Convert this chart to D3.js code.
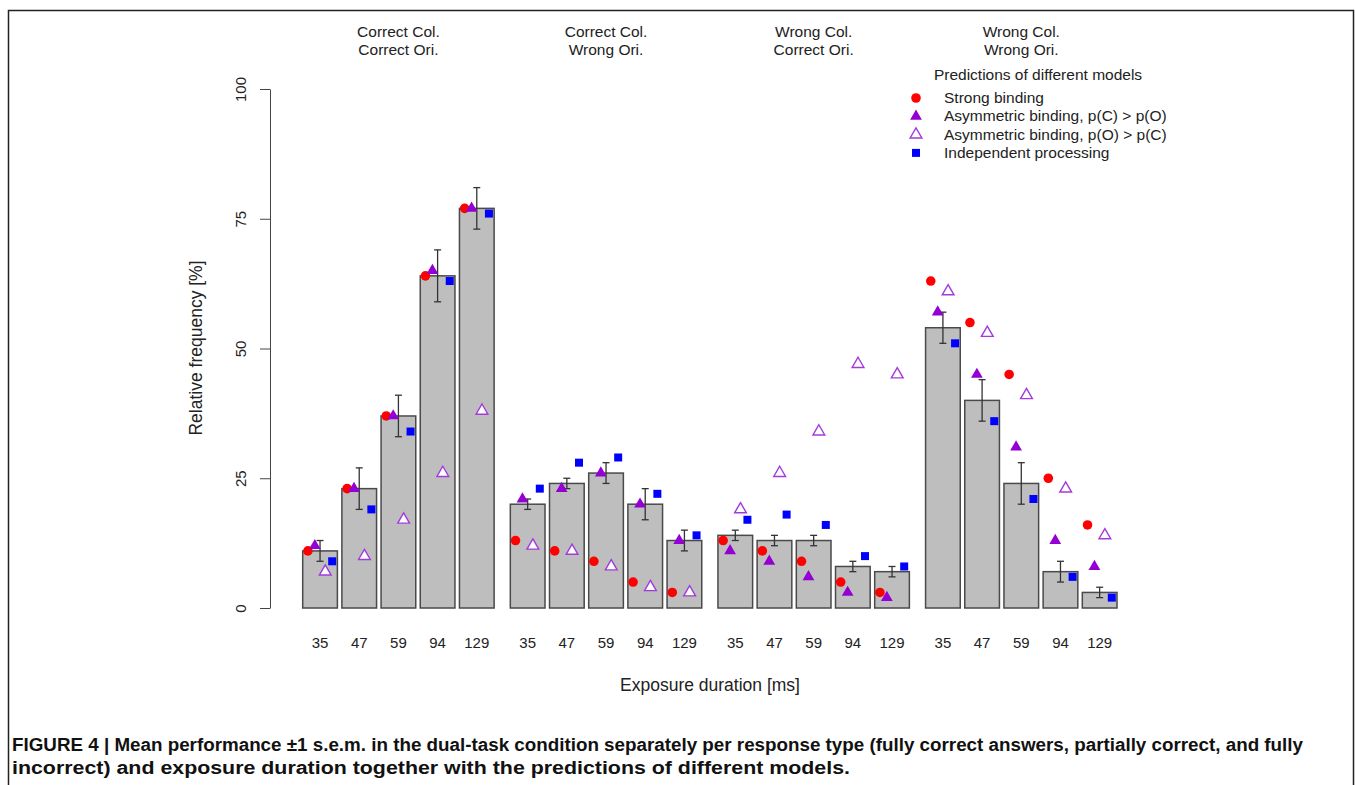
<!DOCTYPE html>
<html>
<head>
<meta charset="utf-8">
<script src="https://cdn.jsdelivr.net/npm/d3@7"></script>
<style>
  body { margin: 0; background: #fff; }
  svg text { font-family: "Liberation Sans", Arial, Helvetica, sans-serif; fill: #222; }
  .caption { font-family: "Liberation Sans Narrow", "Arial Narrow", "Liberation Sans", sans-serif !important; font-weight: bold; font-size: 17.5px; fill: #111; }
</style>
</head>
<body>
<div id="chart"></div>
<script>
// response types (two header lines each) and exposure durations
var groupTop = ["Correct Col.", "Correct Col.", "Wrong Col.", "Wrong Col."];
var groupBottom = ["Correct Ori.", "Wrong Ori.", "Correct Ori.", "Wrong Ori."];
var durations = ["35", "47", "59", "94", "129"];
var yTicks = [0, 25, 50, 75, 100];

// observed mean relative frequency [%] and s.e.m.
var meanFreq = [[11, 23, 37, 64, 77], [20, 24, 26, 20, 13], [14, 13, 13, 8, 7], [54, 40, 24, 7, 3]];
var semFreq  = [[2, 4, 4, 5, 4], [1, 1, 2, 3, 2], [1, 1, 1, 1, 1], [3, 4, 4, 2, 1]];

// model predictions
var strongBinding = [[11, 23, 37, 64, 77], [13, 11, 9, 5, 3], [13, 11, 9, 5, 3], [63, 55, 45, 25, 16]];
var asymCO        = [[12, 23, 37, 65, 77], [21, 23, 26, 20, 13], [11, 9, 6, 3, 2], [57, 45, 31, 13, 8]];
var asymOC        = [[7, 10, 17, 26, 38], [12, 11, 8, 4, 3], [19, 26, 34, 47, 45], [61, 53, 41, 23, 14]];
var independent   = [[9, 19, 34, 63, 76], [23, 28, 29, 22, 14], [17, 18, 16, 10, 8], [51, 36, 21, 6, 2]];

var legendLabels = ["Strong binding", "Asymmetric binding, p(C) > p(O)",
                    "Asymmetric binding, p(O) > p(C)", "Independent processing"];

var W = 1355, H = 785;
var svg = d3.select("#chart").append("svg")
    .attr("width", W)
    .attr("height", H);

// frame round the figure
svg.append("path")
    .attr("d", "M8.5," + H + "V10.5H1353.5V" + H)
    .attr("fill", "none")
    .attr("stroke", "#222")
    .attr("stroke-width", 1.5);

// scales
var y = d3.scaleLinear().domain([0, 100]).range([608, 89]);
var gx = d3.scaleBand().domain(d3.range(groupTop.length))
    .range([302.7, 1117]).paddingInner(0.078).paddingOuter(0);
var bx = d3.scaleBand().domain(durations)
    .range([0, gx.bandwidth()]).paddingInner(0.115).paddingOuter(0);

var bars = [];
meanFreq.forEach(function(row, g) {
  row.forEach(function(v, i) {
    bars.push({
      g: g, d: durations[i], mean: v, sem: semFreq[g][i],
      strong: strongBinding[g][i], co: asymCO[g][i], oc: asymOC[g][i], ind: independent[g][i]
    });
  });
});

function bxPos(d, off) { return gx(d.g) + bx(d.d) + bx.bandwidth() * (0.5 + off); }

// bars
svg.append("g").selectAll("rect")
    .data(bars)
  .enter().append("rect")
    .attr("x", function(d) { return gx(d.g) + bx(d.d); })
    .attr("y", function(d) { return y(d.mean); })
    .attr("width", bx.bandwidth())
    .attr("height", function(d) { return y(0) - y(d.mean); })
    .attr("fill", "#bebebe")
    .attr("stroke", "#4a4a4a")
    .attr("stroke-width", 1.5);

// error bars
var eb = svg.append("g").attr("stroke", "#333").attr("stroke-width", 1.3);
eb.selectAll("line.v").data(bars).enter().append("line")
    .attr("x1", function(d) { return bxPos(d, 0); })
    .attr("x2", function(d) { return bxPos(d, 0); })
    .attr("y1", function(d) { return y(d.mean - d.sem); })
    .attr("y2", function(d) { return y(d.mean + d.sem); });
[-1, 1].forEach(function(s) {
  eb.append("g").selectAll("line").data(bars).enter().append("line")
      .attr("x1", function(d) { return bxPos(d, 0) - 3.5; })
      .attr("x2", function(d) { return bxPos(d, 0) + 3.5; })
      .attr("y1", function(d) { return y(d.mean + s * d.sem); })
      .attr("y2", function(d) { return y(d.mean + s * d.sem); });
});

// prediction markers
var circleSym = d3.symbol(d3.symbolCircle, 72);
var triSym = d3.symbol(d3.symbolTriangle, 60);
var sqSym = d3.symbol(d3.symbolSquare, 64);

svg.append("g").selectAll("path").data(bars).enter().append("path")
    .attr("d", circleSym)
    .attr("transform", function(d) { return "translate(" + bxPos(d, -0.35) + "," + y(d.strong) + ")"; })
    .attr("fill", "#ff0000");
svg.append("g").selectAll("path").data(bars).enter().append("path")
    .attr("d", triSym)
    .attr("transform", function(d) { return "translate(" + bxPos(d, -0.15) + "," + y(d.co) + ")"; })
    .attr("fill", "#9400d3");
svg.append("g").selectAll("path").data(bars).enter().append("path")
    .attr("d", triSym)
    .attr("transform", function(d) { return "translate(" + bxPos(d, 0.15) + "," + y(d.oc) + ")"; })
    .attr("fill", "#fff")
    .attr("stroke", "#a23bdc")
    .attr("stroke-width", 1.4);
svg.append("g").selectAll("path").data(bars).enter().append("path")
    .attr("d", sqSym)
    .attr("transform", function(d) { return "translate(" + bxPos(d, 0.35) + "," + y(d.ind) + ")"; })
    .attr("fill", "#0000ff");

// y axis
var yAxis = svg.append("g")
    .attr("transform", "translate(270,0)")
    .call(d3.axisLeft(y).tickValues(yTicks).tickSize(10).tickSizeOuter(0));
yAxis.select(".domain").attr("stroke", "#444");
yAxis.selectAll(".tick line").attr("stroke", "#444");
yAxis.selectAll(".tick text")
    .attr("x", null).attr("dy", null)
    .attr("transform", "translate(-24,0) rotate(-90)")
    .attr("text-anchor", "middle")
    .style("font-size", "15px")
    .attr("fill", "#333");

svg.append("text")
    .attr("transform", "translate(202,348) rotate(-90)")
    .attr("text-anchor", "middle")
    .style("font-size", "17.5px")
    .text("Relative frequency [%]");

// duration labels under each bar
svg.append("g").selectAll("text").data(bars).enter().append("text")
    .attr("x", function(d) { return bxPos(d, 0); })
    .attr("y", 648)
    .attr("text-anchor", "middle")
    .style("font-size", "15px")
    .text(function(d) { return d.d; });

svg.append("text")
    .attr("x", 710)
    .attr("y", 691)
    .attr("text-anchor", "middle")
    .style("font-size", "17.5px")
    .text("Exposure duration [ms]");

// group headers
groupTop.forEach(function(t, g) {
  var cx = gx(g) + gx.bandwidth() / 2;
  svg.append("text").attr("x", cx).attr("y", 37).attr("text-anchor", "middle")
      .style("font-size", "15.5px").text(t);
  svg.append("text").attr("x", cx).attr("y", 55).attr("text-anchor", "middle")
      .style("font-size", "15.5px").text(groupBottom[g]);
});

// legend
var legend = svg.append("g");
legend.append("text")
    .attr("x", 1038).attr("y", 80)
    .attr("text-anchor", "middle")
    .style("font-size", "15.5px")
    .text("Predictions of different models");
var legSyms = [
  {sym: circleSym, fill: "#ff0000", stroke: "none"},
  {sym: triSym, fill: "#9400d3", stroke: "none"},
  {sym: triSym, fill: "#fff", stroke: "#a23bdc"},
  {sym: sqSym, fill: "#0000ff", stroke: "none"}
];
legendLabels.forEach(function(lab, i) {
  var ly = 98 + i * 18.3;
  legend.append("path")
      .attr("d", legSyms[i].sym)
      .attr("transform", "translate(916," + ly + ")")
      .attr("fill", legSyms[i].fill)
      .attr("stroke", legSyms[i].stroke)
      .attr("stroke-width", 1.4);
  legend.append("text")
      .attr("x", 944).attr("y", ly + 5)
      .style("font-size", "15.5px")
      .text(lab);
});

// caption
svg.append("text")
    .attr("class", "caption")
    .attr("x", 12).attr("y", 751)
    .attr("textLength", 1291).attr("lengthAdjust", "spacingAndGlyphs")
    .text("FIGURE 4 | Mean performance \u00b11 s.e.m. in the dual-task condition separately per response type (fully correct answers, partially correct, and fully");
svg.append("text")
    .attr("class", "caption")
    .attr("x", 12).attr("y", 774)
    .attr("textLength", 838).attr("lengthAdjust", "spacingAndGlyphs")
    .text("incorrect) and exposure duration together with the predictions of different models.");
</script>
</body>
</html>
